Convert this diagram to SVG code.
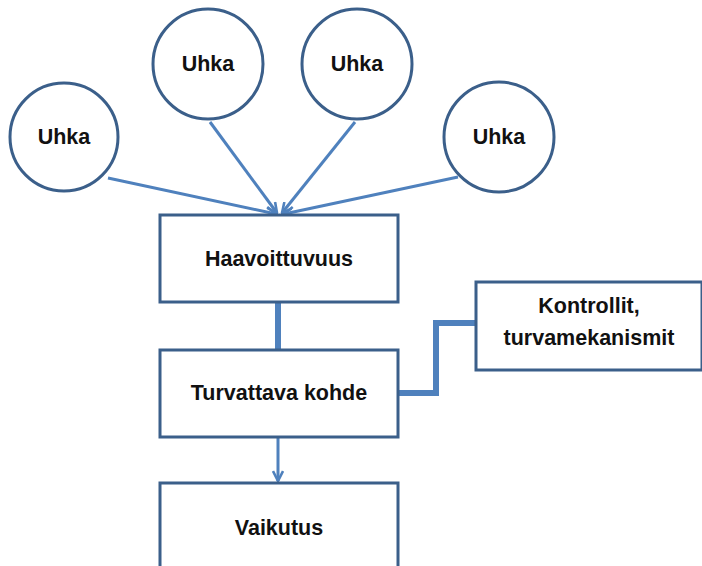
<svg xmlns="http://www.w3.org/2000/svg" width="702" height="566" viewBox="0 0 702 566">
  <defs>
    <marker id="arrow" viewBox="0 0 12 12" refX="11" refY="6" markerWidth="12" markerHeight="12" orient="auto" markerUnits="userSpaceOnUse">
      <path d="M1,1 L11,6 L1,11" fill="none" stroke="#4F81BD" stroke-width="2.6"/>
    </marker>
    <style>
      .node { fill: #FFFFFF; stroke: #3B5F8A; stroke-width: 3; }
      .label { font-family: "Liberation Sans", Arial, sans-serif; font-weight: bold; font-size: 21.5px; fill: #111111; text-anchor: middle; dominant-baseline: central; }
      .thin { fill: none; stroke: #4F81BD; stroke-width: 3; }
      .thick { fill: none; stroke: #4F81BD; stroke-width: 6; }
    </style>
  </defs>
  <rect width="702" height="566" fill="#FFFFFF"/>

  <g id="connectors">
    <line class="thin" x1="108" y1="178" x2="276" y2="214" marker-end="url(#arrow)"/>
    <line class="thin" x1="210" y1="122" x2="277" y2="213" marker-end="url(#arrow)"/>
    <line class="thin" x1="355" y1="122" x2="282" y2="213" marker-end="url(#arrow)"/>
    <line class="thin" x1="458" y1="177" x2="284" y2="214" marker-end="url(#arrow)"/>
    <line class="thick" x1="278" y1="302" x2="278" y2="350"/>
    <polyline class="thick" points="398,393 436,393 436,323 476,323"/>
    <line class="thin" x1="278" y1="437" x2="278" y2="481" marker-end="url(#arrow)"/>
  </g>

  <g id="threat-1">
    <circle class="node" cx="64" cy="137" r="54"/>
    <text class="label" x="64" y="137">Uhka</text>
  </g>
  <g id="threat-2">
    <circle class="node" cx="208" cy="64" r="55"/>
    <text class="label" x="208" y="64">Uhka</text>
  </g>
  <g id="threat-3">
    <circle class="node" cx="357" cy="64" r="55"/>
    <text class="label" x="357" y="64">Uhka</text>
  </g>
  <g id="threat-4">
    <circle class="node" cx="499" cy="137" r="55"/>
    <text class="label" x="499" y="137">Uhka</text>
  </g>

  <g id="vulnerability">
    <rect class="node" x="160" y="215" width="238" height="87"/>
    <text class="label" x="279" y="259">Haavoittuvuus</text>
  </g>
  <g id="asset">
    <rect class="node" x="160" y="350" width="238" height="87"/>
    <text class="label" x="279" y="393">Turvattava kohde</text>
  </g>
  <g id="controls">
    <rect class="node" x="476" y="282" width="226" height="88"/>
    <text class="label" x="589" y="306">Kontrollit,</text>
    <text class="label" x="589" y="338">turvamekanismit</text>
  </g>
  <g id="impact">
    <rect class="node" x="160" y="483" width="238" height="90"/>
    <text class="label" x="279" y="528">Vaikutus</text>
  </g>
</svg>
